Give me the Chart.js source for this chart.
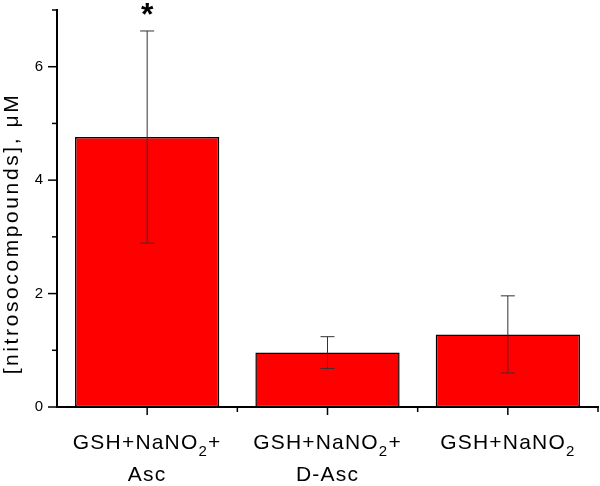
<!DOCTYPE html>
<html>
<head>
<meta charset="utf-8">
<script src="https://cdn.jsdelivr.net/npm/chart.js@4"></script>
<style>
  body { margin: 0; background: #fff; }
  #wrap { width: 600px; height: 486px; }
</style>
</head>
<body>
<div id="wrap"><canvas id="myChart" width="600" height="486"></canvas></div>
<script>
// chart data
let categories = ["GSH+NaNO2+ Asc", "GSH+NaNO2+ D-Asc", "GSH+NaNO2"];
// label pieces: [main text, subscript, text after subscript] per line
let labelLines = [
    [["GSH+NaNO", "2", "+"], ["Asc", "", ""]],
    [["GSH+NaNO", "2", "+"], ["D-Asc", "", ""]],
    [["GSH+NaNO", "2", ""]]
];
let means = [4.76, 0.96, 1.28];
let errors = [1.87, 0.28, 0.68];
let starred = [true, false, false];
let yTicks = [0, 2, 4, 6];
let yTitle = "[nitrosocompounds], \u03bcM";

const FONT = '"Liberation Sans", Arial, sans-serif';

// error bars, asterisk, axis ticks and labels drawn from the scales
let extras = {
    id: 'extras',
    afterDatasetsDraw(chart) {
        let c = chart.ctx;
        let x = chart.scales.x, y = chart.scales.y;
        let area = chart.chartArea;
        c.save();
        c.strokeStyle = '#333';
        c.lineWidth = 1;
        means.forEach((m, i) => {
            let px = x.getPixelForValue(i);
            let top = y.getPixelForValue(m + errors[i]);
            let bot = y.getPixelForValue(m - errors[i]);
            c.beginPath();
            c.moveTo(px, top); c.lineTo(px, bot);
            c.moveTo(px - 7, top); c.lineTo(px + 7, top);
            c.moveTo(px - 7, bot); c.lineTo(px + 7, bot);
            c.stroke();
            if (starred[i]) {
                c.fillStyle = '#000';
                c.font = 'bold 32px ' + FONT;
                c.textAlign = 'center';
                c.textBaseline = 'middle';
                c.fillText('*', px, top - 15);
            }
        });
        // y ticks
        c.strokeStyle = '#000';
        c.lineWidth = 1.5;
        for (let v = 0; v <= 7; v++) {
            let py = y.getPixelForValue(v);
            let len = (v % 2 === 0) ? 9 : 5;
            c.beginPath();
            c.moveTo(area.left - len, py); c.lineTo(area.left, py);
            c.stroke();
        }
        // x ticks and labels
        c.fillStyle = '#000';
        c.textBaseline = 'alphabetic';
        c.textAlign = 'left';
        c.letterSpacing = '1.2px';
        for (let i = 0; i < categories.length; i++) {
            let px = x.getPixelForValue(i);
            c.beginPath();
            c.moveTo(px, area.bottom); c.lineTo(px, area.bottom + 8);
            c.stroke();
            let edge = x.getPixelForValue(i + 0.5);
            c.beginPath();
            c.moveTo(edge, area.bottom); c.lineTo(edge, area.bottom + 5);
            c.stroke();
            labelLines[i].forEach((parts, j) => {
                let base = area.bottom + 42 + j * 32;
                c.font = '21px ' + FONT;
                let w1 = c.measureText(parts[0]).width;
                let w3 = c.measureText(parts[2]).width;
                c.font = '15px ' + FONT;
                let w2 = c.measureText(parts[1]).width;
                let sx = px - (w1 + w2 + w3) / 2;
                c.font = '21px ' + FONT;
                c.fillText(parts[0], sx, base);
                c.font = '15px ' + FONT;
                c.fillText(parts[1], sx + w1, base + 7);
                c.font = '21px ' + FONT;
                c.fillText(parts[2], sx + w1 + w2, base);
            });
        }
        // y title
        c.save();
        c.font = '21px ' + FONT;
        c.letterSpacing = '2.6px';
        c.textAlign = 'center';
        c.textBaseline = 'middle';
        c.translate(12, (area.top + area.bottom) / 2 + 25);
        c.rotate(-Math.PI / 2);
        c.fillText(yTitle, 0, 0);
        c.restore();
        c.restore();
    }
};

ctx = document.getElementById('myChart').getContext('2d');
myChart = new Chart(ctx, {
    type: 'bar',
    data: {
        labels: categories,
        datasets: [{
            data: means,
            backgroundColor: '#ff0000',
            borderColor: '#000',
            borderWidth: 1.5,
            borderSkipped: false,
            categoryPercentage: 0.8,
            barPercentage: 1.0
        }]
    },
    options: {
        responsive: false,
        animation: false,
        layout: { padding: { top: 10, right: 2, left: 0, bottom: 0 } },
        plugins: { legend: { display: false }, tooltip: { enabled: false } },
        scales: {
            x: {
                grid: { display: false },
                border: { display: true, color: '#000', width: 2 },
                ticks: { display: false },
                afterFit(scale) { scale.height = 79; }
            },
            y: {
                min: 0,
                max: 7,
                grid: { display: false },
                border: { display: true, color: '#000', width: 2 },
                ticks: {
                    stepSize: 1,
                    color: '#000',
                    font: { family: FONT, size: 15 },
                    padding: 6,
                    callback: v => yTicks.includes(v) ? v : ''
                },
                afterFit(scale) {
                    scale.width = 57;
                    scale.paddingTop = 0;
                    scale.paddingBottom = 0;
                }
            }
        }
    },
    plugins: [extras]
});
</script>
</body>
</html>
